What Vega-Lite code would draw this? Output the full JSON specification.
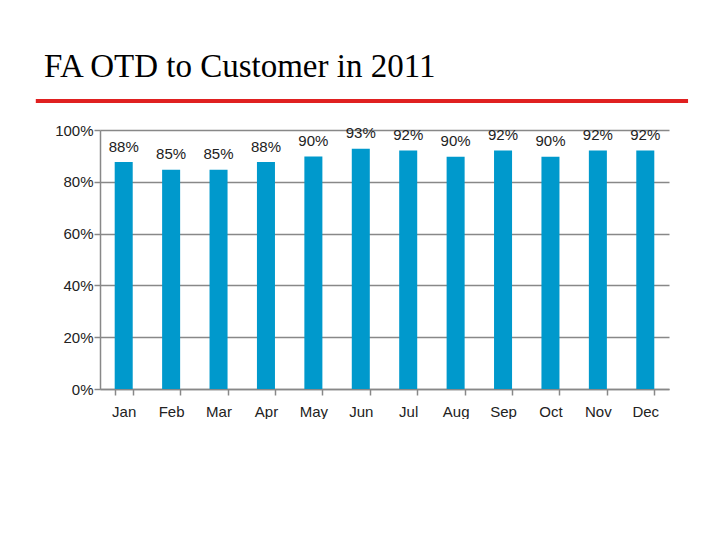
{
  "$schema": "https://vega.github.io/schema/vega-lite/v6.json",
  "autosize": {"type": "pad"},
  "padding": {"left": 33, "top": 50, "right": 0, "bottom": 0},
  "background": "white",
  "config": {
    "view": {"stroke": null},
    "font": "Liberation Sans"
  },
  "title": {
    "text": "FA OTD to Customer in 2011",
    "font": "Liberation Serif",
    "fontSize": 33,
    "fontWeight": "normal",
    "color": "#000000",
    "anchor": "start",
    "baseline": "alphabetic",
    "offset": -11,
    "dx": 10
  },
  "data": {
    "values": [
      {"month": "Jan", "otd": 0.876},
      {"month": "Feb", "otd": 0.847},
      {"month": "Mar", "otd": 0.847},
      {"month": "Apr", "otd": 0.876},
      {"month": "May", "otd": 0.898},
      {"month": "Jun", "otd": 0.928},
      {"month": "Jul", "otd": 0.921},
      {"month": "Aug", "otd": 0.897},
      {"month": "Sep", "otd": 0.921},
      {"month": "Oct", "otd": 0.897},
      {"month": "Nov", "otd": 0.921},
      {"month": "Dec", "otd": 0.921}
    ]
  },
  "width": 569,
  "height": 259,
  "layer": [
    {
      "encoding": {
        "x": {
          "field": "month",
          "type": "ordinal",
          "sort": null,
          "scale": {"paddingInner": 0.62, "paddingOuter": 0.31},
          "axis": {
            "title": null,
            "labelAngle": 0,
            "tickBand": "extent",
            "tickSize": 6,
            "tickColor": "#888888",
            "tickWidth": 1.5,
            "domainColor": "#888888",
            "domainWidth": 1.5,
            "labelPadding": 9,
            "labelFontSize": 15,
            "labelColor": "#222222",
            "labelFont": "Liberation Sans"
          }
        },
        "y": {
          "field": "otd",
          "type": "quantitative",
          "scale": {"domain": [0, 1], "nice": false},
          "axis": {
            "title": null,
            "values": [0, 0.2, 0.4, 0.6, 0.8, 1],
            "format": ".0%",
            "grid": true,
            "gridColor": "#888888",
            "gridWidth": 1.5,
            "domainColor": "#888888",
            "domainWidth": 1.5,
            "tickColor": "#888888",
            "tickWidth": 1.5,
            "tickSize": 6,
            "labelPadding": 1,
            "labelFontSize": 15,
            "labelColor": "#222222",
            "labelFont": "Liberation Sans"
          }
        }
      },
      "layer": [
        {"mark": {"type": "bar", "color": "#0099CC"}},
        {
          "mark": {
            "type": "text",
            "baseline": "middle",
            "dy": -15.5,
            "fontSize": 15,
            "color": "#222222",
            "font": "Liberation Sans"
          },
          "encoding": {
            "text": {"field": "otd", "type": "quantitative", "format": ".0%"}
          }
        }
      ]
    },
    {
      "mark": {"type": "rule", "color": "#E02020", "strokeWidth": 4},
      "encoding": {
        "x": {"datum": -0.1125, "type": "quantitative", "scale": {"domain": [0, 1], "nice": false, "zero": false}, "axis": null},
        "x2": {"datum": 1.0334},
        "y": {"datum": 1.112, "type": "quantitative"}
      }
    }
  ],
  "resolve": {"scale": {"x": "independent"}, "axis": {"x": "independent"}}
}
